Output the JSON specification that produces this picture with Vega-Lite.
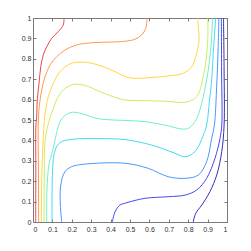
{
  "$schema": "https://vega.github.io/schema/vega-lite/v6.json",
  "width": 194,
  "height": 204,
  "autosize": "none",
  "padding": {"left": 33, "top": 18, "right": 24, "bottom": 29},
  "background": "white",
  "config": {
    "view": {"stroke": null},
    "axis": {
      "grid": false,
      "domainColor": "#7a7a7a",
      "domainWidth": 1,
      "tickColor": "#7a7a7a",
      "tickSize": -3,
      "labelFont": "Liberation Sans",
      "labelFontSize": 7,
      "labelColor": "#303030",
      "labelPadding": 6,
      "title": null
    }
  },
  "data": {
    "values": [
      {"c":"L9","i":0,"x":0.014,"y":0},{"c":"L9","i":1,"x":0.0145,"y":0.25},{"c":"L9","i":2,"x":0.015,"y":0.475},{"c":"L9","i":3,"x":0.019,"y":0.516},{"c":"L9","i":4,"x":0.022,"y":0.598},{"c":"L9","i":5,"x":0.031,"y":0.68},{"c":"L9","i":6,"x":0.04,"y":0.761},{"c":"L9","i":7,"x":0.053,"y":0.819},{"c":"L9","i":8,"x":0.071,"y":0.859},{"c":"L9","i":9,"x":0.096,"y":0.9},{"c":"L9","i":10,"x":0.13,"y":0.933},{"c":"L9","i":11,"x":0.156,"y":0.966},{"c":"L9","i":12,"x":0.16,"y":1},

      {"c":"L8","i":0,"x":0.029,"y":0},{"c":"L8","i":1,"x":0.028,"y":0.255},{"c":"L8","i":2,"x":0.027,"y":0.475},{"c":"L8","i":3,"x":0.032,"y":0.565},{"c":"L8","i":4,"x":0.045,"y":0.647},{"c":"L8","i":5,"x":0.062,"y":0.712},{"c":"L8","i":6,"x":0.088,"y":0.77},{"c":"L8","i":7,"x":0.122,"y":0.81},{"c":"L8","i":8,"x":0.165,"y":0.843},{"c":"L8","i":9,"x":0.225,"y":0.868},{"c":"L8","i":10,"x":0.311,"y":0.879},{"c":"L8","i":11,"x":0.397,"y":0.882},{"c":"L8","i":12,"x":0.474,"y":0.886},{"c":"L8","i":13,"x":0.526,"y":0.896},{"c":"L8","i":14,"x":0.56,"y":0.917},{"c":"L8","i":15,"x":0.581,"y":0.949},{"c":"L8","i":16,"x":0.588,"y":1},

      {"c":"L7","i":0,"x":0.043,"y":0},{"c":"L7","i":1,"x":0.046,"y":0.255},{"c":"L7","i":2,"x":0.057,"y":0.475},{"c":"L7","i":3,"x":0.065,"y":0.549},{"c":"L7","i":4,"x":0.079,"y":0.614},{"c":"L7","i":5,"x":0.105,"y":0.68},{"c":"L7","i":6,"x":0.139,"y":0.737},{"c":"L7","i":7,"x":0.191,"y":0.775},{"c":"L7","i":8,"x":0.242,"y":0.784},{"c":"L7","i":9,"x":0.303,"y":0.778},{"c":"L7","i":10,"x":0.362,"y":0.761},{"c":"L7","i":11,"x":0.423,"y":0.737},{"c":"L7","i":12,"x":0.474,"y":0.713},{"c":"L7","i":13,"x":0.526,"y":0.704},{"c":"L7","i":14,"x":0.594,"y":0.707},{"c":"L7","i":15,"x":0.697,"y":0.716},{"c":"L7","i":16,"x":0.775,"y":0.729},{"c":"L7","i":17,"x":0.818,"y":0.761},{"c":"L7","i":18,"x":0.839,"y":0.81},{"c":"L7","i":19,"x":0.856,"y":0.892},{"c":"L7","i":20,"x":0.852,"y":0.957},{"c":"L7","i":21,"x":0.849,"y":1},

      {"c":"L6","i":0,"x":0.057,"y":0},{"c":"L6","i":1,"x":0.058,"y":0.206},{"c":"L6","i":2,"x":0.062,"y":0.394},{"c":"L6","i":3,"x":0.077,"y":0.475},{"c":"L6","i":4,"x":0.102,"y":0.549},{"c":"L6","i":5,"x":0.125,"y":0.606},{"c":"L6","i":6,"x":0.156,"y":0.647},{"c":"L6","i":7,"x":0.199,"y":0.672},{"c":"L6","i":8,"x":0.234,"y":0.675},{"c":"L6","i":9,"x":0.277,"y":0.667},{"c":"L6","i":10,"x":0.345,"y":0.639},{"c":"L6","i":11,"x":0.414,"y":0.614},{"c":"L6","i":12,"x":0.474,"y":0.598},{"c":"L6","i":13,"x":0.577,"y":0.595},{"c":"L6","i":14,"x":0.68,"y":0.592},{"c":"L6","i":15,"x":0.784,"y":0.587},{"c":"L6","i":16,"x":0.835,"y":0.606},{"c":"L6","i":17,"x":0.861,"y":0.647},{"c":"L6","i":18,"x":0.873,"y":0.696},{"c":"L6","i":19,"x":0.887,"y":0.761},{"c":"L6","i":20,"x":0.901,"y":0.892},{"c":"L6","i":21,"x":0.901,"y":1},

      {"c":"L5","i":0,"x":0.071,"y":0},{"c":"L5","i":1,"x":0.072,"y":0.157},{"c":"L5","i":2,"x":0.082,"y":0.279},{"c":"L5","i":3,"x":0.102,"y":0.353},{"c":"L5","i":4,"x":0.119,"y":0.426},{"c":"L5","i":5,"x":0.13,"y":0.466},{"c":"L5","i":6,"x":0.144,"y":0.5},{"c":"L5","i":7,"x":0.165,"y":0.522},{"c":"L5","i":8,"x":0.191,"y":0.536},{"c":"L5","i":9,"x":0.216,"y":0.538},{"c":"L5","i":10,"x":0.259,"y":0.529},{"c":"L5","i":11,"x":0.328,"y":0.508},{"c":"L5","i":12,"x":0.414,"y":0.5},{"c":"L5","i":13,"x":0.5,"y":0.497},{"c":"L5","i":14,"x":0.577,"y":0.492},{"c":"L5","i":15,"x":0.68,"y":0.475},{"c":"L5","i":16,"x":0.766,"y":0.456},{"c":"L5","i":17,"x":0.801,"y":0.459},{"c":"L5","i":18,"x":0.84,"y":0.5},{"c":"L5","i":19,"x":0.866,"y":0.569},{"c":"L5","i":20,"x":0.887,"y":0.657},{"c":"L5","i":21,"x":0.897,"y":0.706},{"c":"L5","i":22,"x":0.91,"y":0.794},{"c":"L5","i":23,"x":0.92,"y":0.892},{"c":"L5","i":24,"x":0.926,"y":1},

      {"c":"L4","i":0,"x":0.098,"y":0},{"c":"L4","i":1,"x":0.098,"y":0.132},{"c":"L4","i":2,"x":0.101,"y":0.255},{"c":"L4","i":3,"x":0.108,"y":0.328},{"c":"L4","i":4,"x":0.124,"y":0.373},{"c":"L4","i":5,"x":0.149,"y":0.395},{"c":"L4","i":6,"x":0.191,"y":0.404},{"c":"L4","i":7,"x":0.258,"y":0.409},{"c":"L4","i":8,"x":0.345,"y":0.409},{"c":"L4","i":9,"x":0.474,"y":0.404},{"c":"L4","i":10,"x":0.612,"y":0.377},{"c":"L4","i":11,"x":0.732,"y":0.337},{"c":"L4","i":12,"x":0.784,"y":0.32},{"c":"L4","i":13,"x":0.835,"y":0.345},{"c":"L4","i":14,"x":0.878,"y":0.426},{"c":"L4","i":15,"x":0.895,"y":0.475},{"c":"L4","i":16,"x":0.91,"y":0.598},{"c":"L4","i":17,"x":0.921,"y":0.696},{"c":"L4","i":18,"x":0.93,"y":0.843},{"c":"L4","i":19,"x":0.942,"y":1},

      {"c":"L3","i":0,"x":0.148,"y":0},{"c":"L3","i":1,"x":0.141,"y":0.083},{"c":"L3","i":2,"x":0.143,"y":0.181},{"c":"L3","i":3,"x":0.165,"y":0.247},{"c":"L3","i":4,"x":0.199,"y":0.271},{"c":"L3","i":5,"x":0.259,"y":0.283},{"c":"L3","i":6,"x":0.474,"y":0.288},{"c":"L3","i":7,"x":0.594,"y":0.263},{"c":"L3","i":8,"x":0.697,"y":0.222},{"c":"L3","i":9,"x":0.784,"y":0.214},{"c":"L3","i":10,"x":0.852,"y":0.23},{"c":"L3","i":11,"x":0.895,"y":0.296},{"c":"L3","i":12,"x":0.921,"y":0.41},{"c":"L3","i":13,"x":0.935,"y":0.475},{"c":"L3","i":14,"x":0.946,"y":0.647},{"c":"L3","i":15,"x":0.954,"y":0.843},{"c":"L3","i":16,"x":0.958,"y":1},

      {"c":"L2","i":0,"x":0.409,"y":0},{"c":"L2","i":1,"x":0.423,"y":0.05},{"c":"L2","i":2,"x":0.448,"y":0.083},{"c":"L2","i":3,"x":0.474,"y":0.092},{"c":"L2","i":4,"x":0.577,"y":0.116},{"c":"L2","i":5,"x":0.697,"y":0.124},{"c":"L2","i":6,"x":0.784,"y":0.132},{"c":"L2","i":7,"x":0.844,"y":0.157},{"c":"L2","i":8,"x":0.895,"y":0.214},{"c":"L2","i":9,"x":0.938,"y":0.312},{"c":"L2","i":10,"x":0.964,"y":0.41},{"c":"L2","i":11,"x":0.973,"y":0.475},{"c":"L2","i":12,"x":0.972,"y":0.745},{"c":"L2","i":13,"x":0.971,"y":1},

      {"c":"L1","i":0,"x":0.826,"y":0},{"c":"L1","i":1,"x":0.839,"y":0.043},{"c":"L1","i":2,"x":0.87,"y":0.083},{"c":"L1","i":3,"x":0.912,"y":0.149},{"c":"L1","i":4,"x":0.947,"y":0.23},{"c":"L1","i":5,"x":0.973,"y":0.345},{"c":"L1","i":6,"x":0.985,"y":0.475},{"c":"L1","i":7,"x":0.985,"y":0.745},{"c":"L1","i":8,"x":0.982,"y":1}
    ]
  },
  "layer": [
    {
      "mark": {"type": "line", "strokeWidth": 1, "interpolate": "catmull-rom", "clip": true},
      "encoding": {
        "x": {"field": "x", "type": "quantitative", "scale": {"domain": [0, 1], "nice": false, "zero": false},
              "axis": {"values": [0,0.1,0.2,0.3,0.4,0.5,0.6,0.7,0.8,0.9,1], "format": "~g", "labelPadding": 6}},
        "y": {"field": "y", "type": "quantitative", "scale": {"domain": [0, 1], "nice": false, "zero": false},
              "axis": {"values": [0,0.1,0.2,0.3,0.4,0.5,0.6,0.7,0.8,0.9,1], "format": "~g", "labelPadding": 5}},
        "color": {"field": "c", "type": "nominal", "legend": null,
                  "scale": {"domain": ["L1","L2","L3","L4","L5","L6","L7","L8","L9"],
                            "range": ["#3030b8","#4848f0","#4898ff","#48d8f0","#70f0c8","#c8f060","#ffd840","#ff9850","#e84848"]}},
        "order": {"field": "i", "type": "quantitative"}
      }
    },
    {
      "mark": {"type": "point", "opacity": 0},
      "encoding": {
        "x": {"field": "x", "type": "quantitative", "scale": {"domain": [0, 1], "nice": false, "zero": false},
              "axis": {"values": [0,0.1,0.2,0.3,0.4,0.5,0.6,0.7,0.8,0.9,1], "labels": false}},
        "y": {"field": "y", "type": "quantitative", "scale": {"domain": [0, 1], "nice": false, "zero": false},
              "axis": {"values": [0,0.1,0.2,0.3,0.4,0.5,0.6,0.7,0.8,0.9,1], "labels": false}}
      }
    }
  ],
  "resolve": {"axis": {"x": "independent", "y": "independent"}}
}
